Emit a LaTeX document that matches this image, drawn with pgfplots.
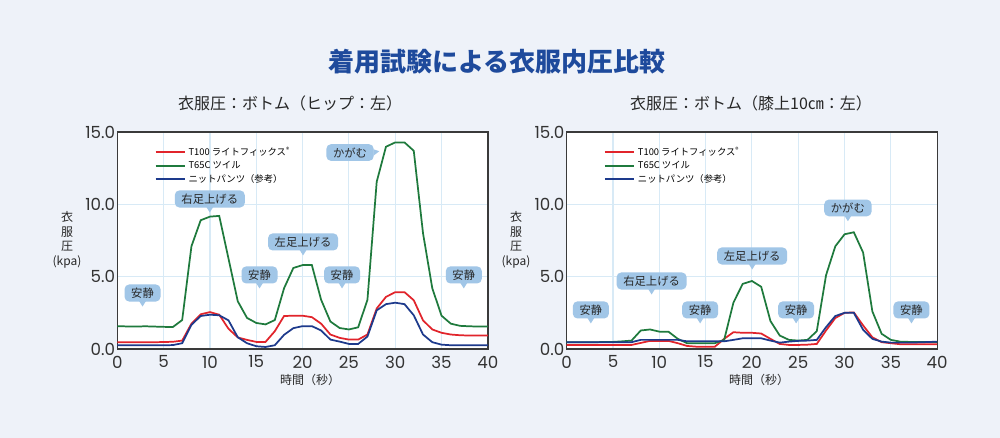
\documentclass[border=0pt]{standalone}
\usepackage{fontspec}
\usepackage{pgfplots}
\usepackage{pgfplotstable}
\pgfplotsset{compat=1.18}
\setmainfont{Noto Sans CJK JP}
\newfontfamily\numfont{Poppins}

\definecolor{bg}{HTML}{EEF2F9}
\definecolor{tred}{HTML}{E1242B}
\definecolor{tgreen}{HTML}{1F7A3D}
\definecolor{tblue}{HTML}{1D3A8C}
\definecolor{gridc}{HTML}{D8EAF6}
\definecolor{callc}{HTML}{A1C6E7}
\definecolor{titlec}{HTML}{1E4A9C}
\definecolor{framec}{HTML}{3A3A3A}

% hip (left)
\pgfplotstableread{
t  red   green  blue
0  0.47  1.58   0.26
1  0.47  1.56   0.26
2  0.47  1.55   0.26
3  0.47  1.57   0.26
4  0.47  1.55   0.26
5  0.48  1.53   0.26
6  0.50  1.52   0.27
7  0.58  2.00   0.40
8  1.75  7.10   1.67
9  2.40  8.90   2.28
10 2.55  9.15   2.37
11 2.37  9.20   2.33
12 1.40  6.25   1.98
13 0.80  3.30   0.81
14 0.63  2.15   0.40
15 0.49  1.80   0.19
16 0.49  1.70   0.14
17 1.23  2.00   0.26
18 2.28  4.20   0.98
19 2.30  5.60   1.44
20 2.30  5.80   1.58
21 2.20  5.80   1.58
22 1.75  3.40   1.28
23 1.00  1.90   0.65
24 0.77  1.45   0.51
25 0.65  1.35   0.35
26 0.65  1.50   0.35
27 1.00  3.40   0.86
28 2.80  11.56  2.67
29 3.60  13.98  3.10
30 3.93  14.28  3.20
31 3.93  14.28  3.10
32 3.37  13.70  2.33
33 1.98  8.00   1.00
34 1.35  4.20   0.47
35 1.12  2.30   0.30
36 1.00  1.75   0.26
37 0.95  1.60   0.26
38 0.93  1.57   0.26
39 0.93  1.55   0.26
40 0.93  1.55   0.26
}\hip

% knee (right)
\pgfplotstableread{
t  red   green  blue
0  0.28  0.47   0.47
1  0.28  0.47   0.47
2  0.28  0.47   0.47
3  0.28  0.47   0.47
4  0.28  0.48   0.47
5  0.28  0.49   0.47
6  0.28  0.53   0.47
7  0.28  0.58   0.47
8  0.42  1.28   0.63
9  0.56  1.35   0.63
10 0.56  1.20   0.63
11 0.56  1.19   0.63
12 0.40  0.70   0.63
13 0.21  0.40   0.53
14 0.16  0.40   0.53
15 0.16  0.40   0.53
16 0.16  0.40   0.53
17 0.70  0.63   0.53
18 1.16  3.20   0.63
19 1.12  4.50   0.74
20 1.12  4.70   0.74
21 1.07  4.30   0.74
22 0.70  1.93   0.58
23 0.35  0.93   0.44
24 0.28  0.63   0.51
25 0.28  0.58   0.56
26 0.30  0.63   0.58
27 0.35  1.23   0.63
28 1.28  5.10   1.51
29 2.14  7.10   2.28
30 2.50  7.93   2.50
31 2.53  8.07   2.50
32 1.63  6.67   1.33
33 0.81  2.60   0.70
34 0.47  1.05   0.51
35 0.40  0.63   0.44
36 0.33  0.51   0.44
37 0.33  0.49   0.44
38 0.33  0.49   0.46
39 0.33  0.49   0.48
40 0.33  0.49   0.51
}\knee

\tikzset{call/.style={fill=callc, rounded corners=3.5pt, inner xsep=5pt, inner ysep=2.5pt,
  font=\fontsize{8.5}{9}\selectfont, text=black!85}}
% callout with pointer below
\newcommand{\calldown}[3]{%
  \node[call] (c) at (axis cs:#1,#2) {#3};
  \fill[callc] ([xshift=-2.5pt,yshift=0.5pt]c.south) -- ([xshift=2.5pt,yshift=0.5pt]c.south) -- ([yshift=-3.5pt]c.south) -- cycle;}
% callout with pointer to the right
\newcommand{\callright}[3]{%
  \node[call] (c) at (axis cs:#1,#2) {#3};
  \fill[callc] ([yshift=2.5pt,xshift=-0.5pt]c.east) -- ([yshift=-2.5pt,xshift=-0.5pt]c.east) -- ([xshift=4pt,yshift=1pt]c.east) -- cycle;}

\pgfplotsset{panel/.style={
  scale only axis, width=277.9pt, height=162.75pt,
  xmin=0, xmax=40, ymin=0, ymax=15,
  xtick={0,5,...,40}, ytick={0,5,10,15},
  grid=major, grid style={gridc, line width=0.8pt},
  axis line style={framec, line width=1pt},
  major tick length=0pt,
  axis background/.style={fill=white},
  /pgf/number format/assume math mode=true,
  ticklabel style={font=\numfont\fontsize{12.5}{14}\selectfont, text=black!80, inner sep=1.5pt},
  xticklabel style={yshift=-3.5pt},
  yticklabel style={/pgf/number format/.cd, fixed, fixed zerofill, precision=1},
  legend style={draw=none, fill=none, at={(0.1,0.945)}, anchor=north west,
    font=\fontsize{7}{8}\selectfont, row sep=-1.1pt, inner sep=0pt},
  legend cell align=left,
  legend image code/.code={\draw[##1, line width=1.5pt] (0pt,0pt) -- (22pt,0pt);},
  every axis plot/.append style={line width=1.3pt, mark=none},
}}

\begin{document}
\begin{tikzpicture}
\fill[bg] (0,0) rectangle (750pt,328.5pt);
\node[titlec, font=\bfseries\fontsize{19.5}{22}\selectfont] at (372.75pt,282pt) {着用試験による衣服内圧比較};
\node[font=\fontsize{12}{14}\selectfont, text=black!85] at (217.5pt,251.25pt) {衣服圧：ボトム（ヒップ：左）};
\node[font=\fontsize{12}{14}\selectfont, text=black!85] at (563.25pt,251.25pt) {衣服圧：ボトム（膝上10㎝：左）};

\begin{axis}[panel, at={(88pt,66.75pt)}, anchor=south west]
  \addplot[tred] table[x=t, y=red] {\hip};
  \addplot[tgreen] table[x=t, y=green] {\hip};
  \addplot[tblue] table[x=t, y=blue] {\hip};
  \addlegendentry{T100 ライトフィックス\raisebox{0.6ex}{\fontsize{5}{5}\selectfont ®}}
  \addlegendentry{T65C ツイル}
  \addlegendentry{ニットパンツ（参考）}
  \calldown{2.72}{3.87}{安静}
  \calldown{9.98}{10.37}{右足上げる}
  \calldown{20.05}{7.40}{左足上げる}
  \calldown{15.35}{5.12}{安静}
  \calldown{24.26}{5.12}{安静}
  \calldown{37.4}{5.12}{安静}
  \callright{25.12}{13.58}{かがむ}
\end{axis}

\begin{axis}[panel, at={(425pt,66.75pt)}, anchor=south west]
  \addplot[tred] table[x=t, y=red] {\knee};
  \addplot[tgreen] table[x=t, y=green] {\knee};
  \addplot[tblue] table[x=t, y=blue] {\knee};
  \addlegendentry{T100 ライトフィックス\raisebox{0.6ex}{\fontsize{5}{5}\selectfont ®}}
  \addlegendentry{T65C ツイル}
  \addlegendentry{ニットパンツ（参考）}
  \calldown{2.61}{2.70}{安静}
  \calldown{9.17}{4.70}{右足上げる}
  \calldown{20.03}{6.43}{左足上げる}
  \calldown{14.41}{2.70}{安静}
  \calldown{24.77}{2.70}{安静}
  \calldown{37.22}{2.70}{安静}
  \calldown{30.36}{9.75}{かがむ}
\end{axis}

\node[align=center, font=\fontsize{9}{11}\selectfont, text=black!85] at (50.25pt,148.5pt) {衣\\服\\圧\\(kpa)};
\node[align=center, font=\fontsize{9}{11}\selectfont, text=black!85] at (387pt,148.5pt) {衣\\服\\圧\\(kpa)};
\node[font=\fontsize{9}{11}\selectfont, text=black!85] at (232.5pt,43.5pt) {時間（秒）};
\node[font=\fontsize{9}{11}\selectfont, text=black!85] at (569.25pt,43.5pt) {時間（秒）};
\end{tikzpicture}
\end{document}
